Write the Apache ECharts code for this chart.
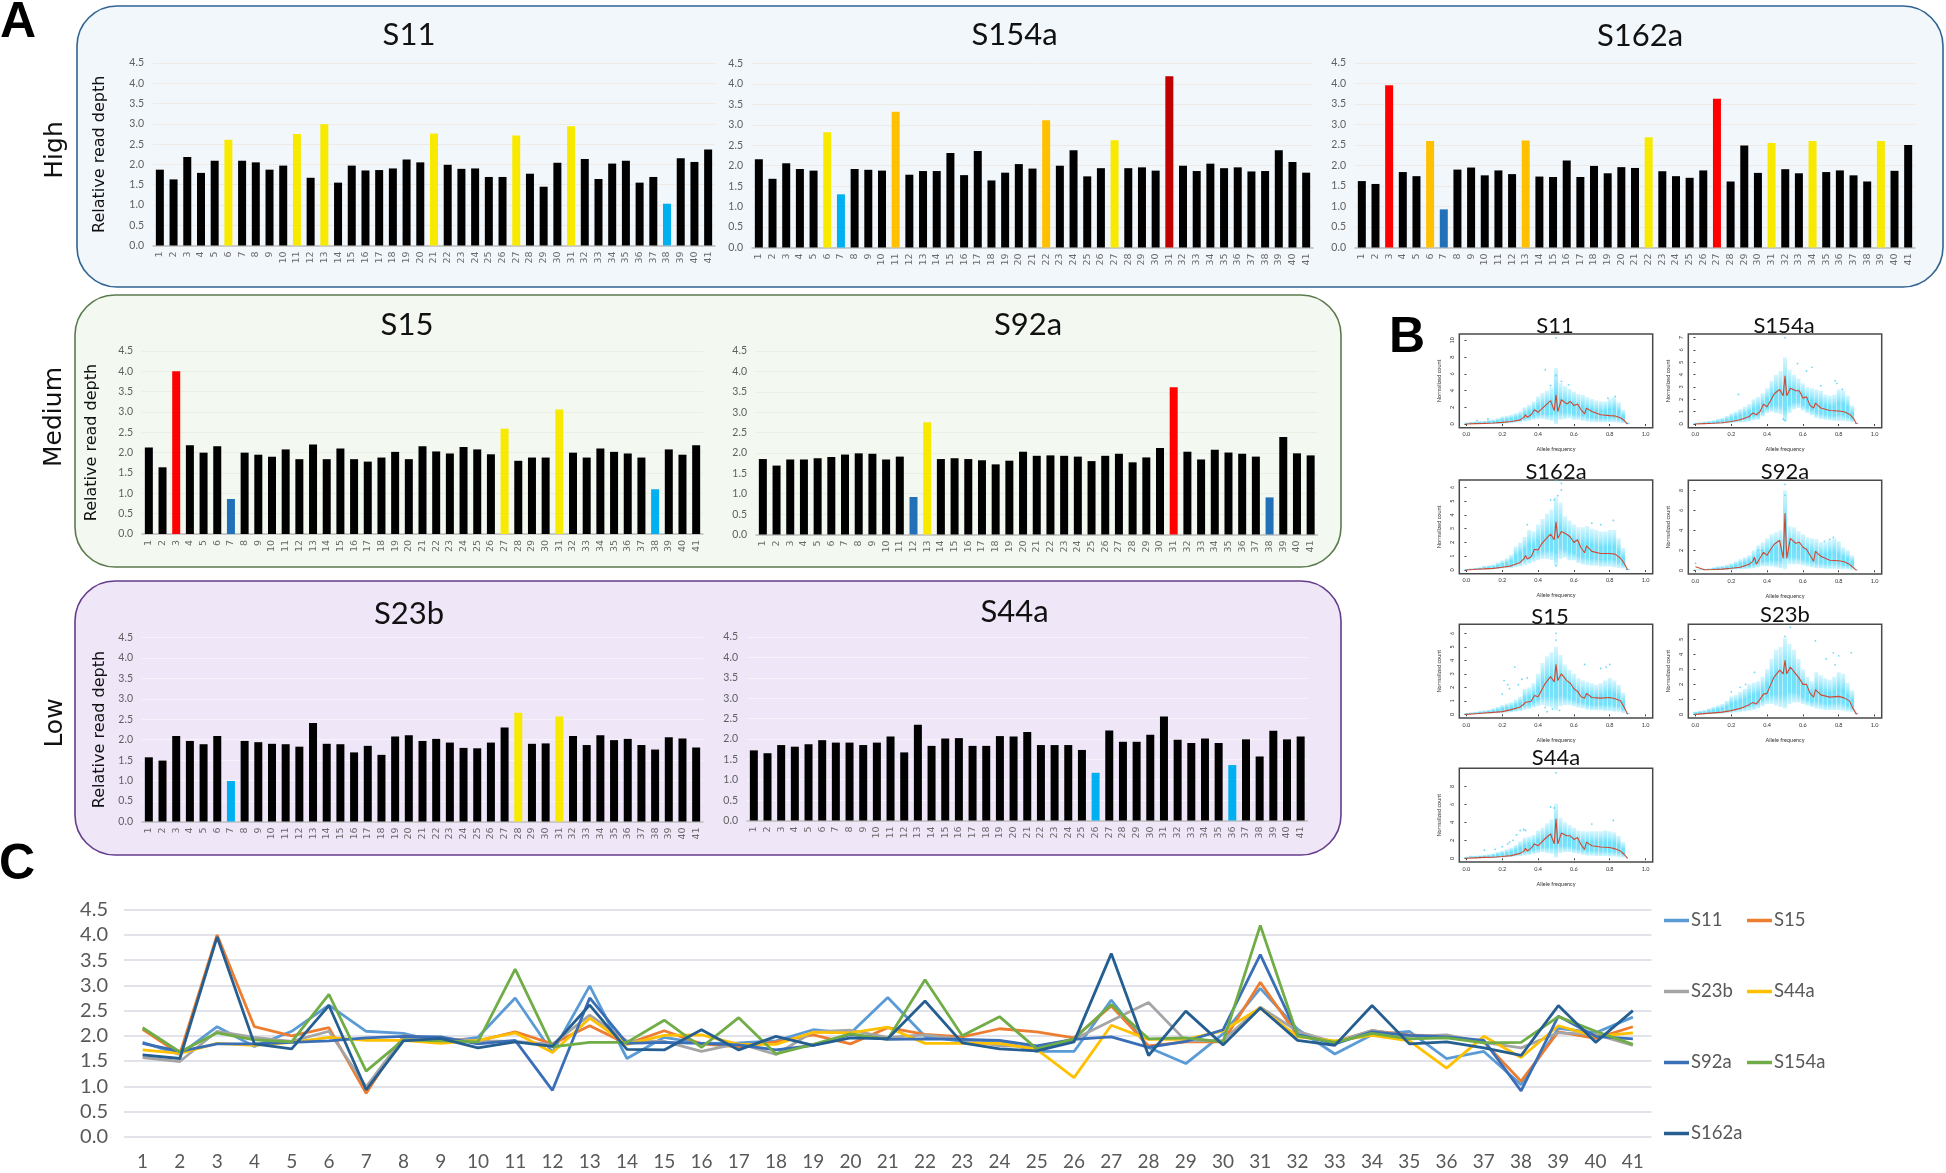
<!DOCTYPE html>
<html><head><meta charset="utf-8">
<style>html,body{margin:0;padding:0;background:#fff}#c{width:1946px;height:1173px}</style>
<script src="https://cdn.jsdelivr.net/npm/echarts@6/dist/echarts.min.js"></script>
</head><body><div id="c"></div>
<script>
// ---------- categories & ticks ----------
const regions = ['1','2','3','4','5','6','7','8','9','10','11','12','13','14','15','16','17','18','19','20','21','22','23','24','25','26','27','28','29','30','31','32','33','34','35','36','37','38','39','40','41'];
const freqTicks = [0,0.2,0.4,0.6,0.8,1];

// ---------- relative read depth (A, C) ----------
const S11  = [1.87,1.63,2.18,1.79,2.09,2.61,2.09,2.05,1.87,1.97,2.75,1.67,2.99,1.55,1.97,1.85,1.86,1.90,2.12,2.05,2.76,1.99,1.89,1.90,1.69,1.69,2.71,1.77,1.45,2.04,2.94,2.13,1.64,2.02,2.09,1.55,1.69,1.03,2.15,2.06,2.37];
const S154a= [2.16,1.68,2.06,1.92,1.88,2.82,1.30,1.92,1.90,1.88,3.32,1.78,1.87,1.87,2.31,1.77,2.36,1.64,1.83,2.04,1.93,3.11,2.00,2.38,1.74,1.94,2.62,1.94,1.96,1.88,4.19,2.00,1.87,2.05,1.94,1.96,1.86,1.87,2.38,2.09,1.83];
const S162a= [1.62,1.55,3.96,1.84,1.74,2.60,0.93,1.90,1.95,1.76,1.88,1.79,2.61,1.73,1.72,2.12,1.72,1.99,1.81,1.96,1.94,2.69,1.86,1.74,1.70,1.88,3.63,1.61,2.49,1.82,2.55,1.91,1.81,2.60,1.84,1.88,1.76,1.61,2.60,1.87,2.50];
const S15  = [2.13,1.64,4.00,2.18,2.00,2.16,0.86,2.00,1.95,1.90,2.08,1.84,2.20,1.84,2.10,1.84,1.78,1.88,2.02,1.84,2.16,2.03,1.98,2.14,2.08,1.96,2.59,1.80,1.88,1.88,3.06,2.00,1.88,2.10,2.02,1.98,1.88,1.10,2.08,1.95,2.18];
const S92a = [1.85,1.69,1.84,1.84,1.87,1.90,1.96,1.99,1.98,1.84,1.91,0.92,2.75,1.85,1.87,1.85,1.82,1.72,1.81,2.03,1.93,1.94,1.93,1.91,1.80,1.93,1.98,1.77,1.89,2.12,3.61,2.03,1.84,2.08,2.01,1.98,1.91,0.91,2.39,1.99,1.94];
const S23b = [1.57,1.49,2.09,1.97,1.89,2.09,0.99,1.97,1.94,1.90,1.89,1.83,2.41,1.90,1.89,1.69,1.85,1.63,2.08,2.11,1.97,2.02,1.93,1.80,1.79,1.93,2.30,2.66,1.90,1.91,2.57,2.09,1.87,2.11,1.99,2.02,1.87,1.76,2.06,2.03,1.81];
const S44a = [1.72,1.65,1.85,1.81,1.87,1.97,1.91,1.91,1.85,1.91,2.06,1.67,2.35,1.83,2.01,2.02,1.83,1.83,2.07,2.06,2.17,1.85,1.85,1.85,1.73,1.17,2.21,1.93,1.93,2.10,2.55,1.98,1.90,2.01,1.90,1.36,1.99,1.57,2.20,1.99,2.06];

// ---------- highlighted regions (A) ----------
const Y='#f7ea00', O='#ffc000', R='#ff0000', D='#c00000', L='#00b0f0', B='#2170b8';
const marksS11  = {6:Y,11:Y,13:Y,21:Y,27:Y,31:Y,38:L};
const marksS154a= {6:Y,7:L,11:O,22:O,27:Y,31:D};
const marksS162a= {3:R,6:O,7:B,13:O,22:Y,27:R,31:Y,34:Y,39:Y};
const marksS15  = {3:R,7:B,27:Y,31:Y,38:L};
const marksS92a = {12:B,13:Y,31:R,38:B};
const marksS23b = {7:L,28:Y,31:Y};
const marksS44a = {26:L,36:L};

// ---------- allele-frequency plots (B): cloud extent per column, curve, stray points ----------
const cloudX = [0,.025,.05,.075,.1,.125,.15,.175,.2,.225,.25,.275,.3,.325,.35,.375,.4,.425,.45,.475,.5,.525,.55,.575,.6,.625,.65,.675,.7,.725,.75,.775,.8,.825,.85,.875,.9];
const curveX = [0,.05,.1,.15,.2,.25,.3,.32,.33,.34,.36,.38,.4,.42,.44,.47,.49,.5,.51,.53,.56,.58,.6,.62,.64,.66,.67,.7,.75,.8,.83,.86,.88,.9];

const hiS11 = [.2,.25,.3,.35,.4,.5,.55,.7,.9,1.0,1.1,1.3,1.5,2.0,2.3,2.7,3.3,3.7,4.0,4.4,6.7,4.9,4.5,4.2,3.9,3.6,3.5,3.2,3.0,2.8,2.7,2.7,3.0,3.2,2.6,1.7,.2];
const loS11 = [0,0,0,0,0,0,0,0,0,.05,.1,.15,.2,.3,.4,.5,.6,.6,.5,.4,0,.5,.6,.7,.5,.5,.4,.3,.25,.2,.2,.2,.2,.2,.15,.1,0];
const curveS11 = [0,.05,.08,.12,.2,.3,.5,.8,1.1,.8,1.1,1.7,1.4,1.8,2.2,2.8,1.6,3.5,1.5,2.9,2.4,2.7,2.2,2.4,1.7,1.2,1.9,1.5,1.1,1.0,.95,.75,.45,0];
const strayS11 = [[.5,10.3],[.44,6.5],[.5,5.8],[.53,5.1],[.57,4.7],[.83,3.3],[.79,3.1],[.47,4.6],[.06,.4],[.12,.6]];

const hiS154a = [.1,.15,.2,.25,.3,.4,.5,.65,.85,1.0,1.2,1.4,1.6,2.0,2.2,2.5,2.9,3.5,4.0,4.3,5.4,4.4,4.0,3.7,3.3,3.0,2.9,2.8,2.7,2.4,2.3,2.4,2.8,2.7,2.3,1.5,.1];
const loS154a = [0,0,0,0,0,.02,.03,.05,.07,.1,.12,.15,.2,.3,.35,.6,.9,1.0,.9,.8,.2,.9,1.2,1.3,1.1,.9,.7,.5,.4,.35,.3,.25,.25,.25,.2,.15,0];
const curveS154a = [0,.03,.06,.1,.2,.35,.6,.9,1.0,.75,1.0,1.6,1.4,1.9,2.45,2.8,2.3,3.9,2.3,2.9,2.7,2.7,2.1,2.2,1.5,1.3,1.7,1.3,1.1,1.05,1.0,.8,.5,0];
const strayS154a = [[.5,7.0],[.24,2.4],[.57,4.9],[.62,4.3],[.65,4.6],[.78,3.5],[.79,3.3],[.7,3.1],[.82,2.8],[.5,.3],[.49,.4]];

const hiS162a = [.1,.12,.15,.2,.3,.35,.4,.55,.7,.85,1.1,1.7,2.0,2.4,2.9,2.8,3.3,3.7,4.1,4.4,5.3,4.9,3.9,3.6,3.3,3.1,3.1,3.2,3.0,2.9,2.8,2.8,2.9,2.9,2.3,1.6,.1];
const loS162a = [0,0,0,.01,.02,.03,.05,.07,.1,.12,.15,.2,.25,.35,.45,.6,.7,.8,.8,.7,.3,.8,.9,.7,.7,.5,.4,.35,.3,.3,.25,.25,.25,.2,.15,.1,0];
const curveS162a = [0,.05,.08,.12,.2,.3,.55,.8,1.05,.8,.95,1.5,1.45,1.9,2.2,2.6,2.2,3.5,2.3,2.8,2.6,2.4,2.0,2.2,1.6,1.25,1.75,1.35,1.2,1.2,1.15,.85,.5,0];
const strayS162a = [[.5,6.5],[.47,5.1],[.49,5.1],[.51,5.4],[.53,5.8],[.53,6.3],[.82,3.6],[.7,3.4],[.75,3.3],[.34,3.3],[.5,.3]];

const hiS15 = [.1,.15,.2,.25,.3,.35,.45,.55,.7,.8,.9,1.1,1.3,1.9,2.0,2.3,3.0,3.8,4.3,4.6,5.0,4.4,3.7,3.3,3.0,2.7,2.5,2.4,2.3,2.2,2.3,2.5,2.7,2.5,2.2,1.6,.1];
const loS15 = [0,0,0,.02,.03,.05,.06,.08,.1,.12,.15,.2,.25,.35,.4,.5,.6,.7,.6,.5,.3,.6,.7,.7,.6,.5,.45,.35,.3,.3,.3,.25,.25,.2,.2,.1,0];
const curveS15 = [0,.05,.1,.15,.2,.35,.55,.75,.9,.8,.95,1.4,1.3,1.8,2.3,2.8,2.4,3.7,2.5,3.0,2.5,2.3,1.9,1.7,1.3,1.2,1.55,1.25,1.2,1.25,1.15,1.0,.55,0];
const strayS15 = [[.21,2.5],[.23,2.2],[.27,3.5],[.2,1.5],[.24,1.9],[.29,2.2],[.31,2.6],[.34,2.7],[.5,6.0],[.5,5.5],[.66,3.7],[.78,3.5],[.8,3.7],[.75,3.4],[.45,.2],[.48,.4],[.52,.3],[.44,.5]];

const hiS92a = [.1,.1,.15,.2,.3,.4,.45,.55,.7,.9,1.1,1.3,1.5,2.0,2.5,2.8,3.2,3.6,3.8,4.0,8.0,4.4,4.3,3.9,3.6,3.3,3.2,3.1,2.8,2.8,3.0,3.2,2.9,2.3,2.0,1.5,.1];
const loS92a = [0,0,0,0,0,0,.02,.03,.05,.07,.1,.13,.15,.2,.3,.4,.4,.4,.3,.2,.1,.6,.6,.6,.5,.4,.3,.2,.2,.15,.15,.15,.1,.1,.1,.05,0];
const curveS92a = [.35,.05,.08,.12,.2,.3,.6,.9,1.3,.6,1.2,1.8,1.5,2.1,2.6,3.0,1.2,5.7,1.2,3.2,2.7,2.8,2.3,2.1,1.5,.9,1.9,1.4,1.0,.95,.85,.6,.3,0];
const strayS92a = [[.5,8.6],[0,.7],[.5,7.5],[.35,2.0],[.37,2.0],[.77,3.3],[.75,3.1],[.72,2.9]];

const hiS23b = [.2,.25,.3,.4,.5,.6,.7,.9,1.2,1.3,1.5,1.7,2.0,2.1,2.2,2.5,3.0,3.7,4.3,4.5,5.1,4.7,4.3,3.7,3.0,2.5,2.2,2.8,2.6,2.4,2.3,2.5,2.8,2.7,2.1,1.6,.1];
const loS23b = [0,0,0,.01,.02,.03,.05,.07,.1,.12,.15,.2,.25,.3,.4,.55,.7,.7,.6,.5,.4,.7,.8,.8,.7,.6,.5,.4,.35,.3,.3,.3,.3,.25,.2,.15,0];
const curveS23b = [0,.05,.1,.15,.25,.4,.65,.8,.9,.7,1.0,1.35,1.4,2.0,2.5,2.95,2.7,3.6,2.7,3.15,2.7,2.4,2.0,2.0,1.4,1.15,1.65,1.3,1.15,1.2,1.1,.9,.4,0];
const strayS23b = [[.5,5.2],[.53,5.8],[.67,4.9],[.33,2.8],[.28,2.0],[.25,1.8],[.2,1.5],[.77,4.1],[.8,3.9],[.87,4.1],[.73,3.7],[.78,3.3]];

const hiS44a = [.2,.3,.3,.35,.4,.45,.55,.7,.85,1.0,1.2,1.5,1.9,2.3,2.4,2.6,3.1,3.4,3.9,4.3,6.1,4.5,4.0,3.7,3.4,3.1,3.0,3.0,3.0,3.0,3.0,3.1,3.0,2.9,2.5,1.8,.1];
const loS44a = [0,0,0,.01,.02,.03,.05,.07,.1,.12,.15,.2,.25,.3,.4,.5,.6,.7,.6,.5,.1,.6,.7,.7,.6,.5,.4,.3,.3,.25,.25,.25,.2,.2,.15,.1,0];
const curveS44a = [0,.05,.1,.12,.2,.3,.55,.8,1.1,.8,1.1,1.6,1.4,1.8,2.2,2.7,1.6,4.4,1.6,2.8,2.5,2.5,2.1,2.3,1.5,1.0,1.8,1.4,1.25,1.2,1.05,.8,.45,0];
const strayS44a = [[.1,.9],[.16,1.0],[.2,1.3],[.23,1.6],[.26,2.0],[.28,2.6],[.3,3.1],[.32,3.2],[.33,3.1],[.24,1.8],[.5,9.5],[.47,5.7],[.49,5.6],[.82,4.2],[.7,3.8]];

const ticksS11=[0,2,4,6,8,10], ticksS154a=[0,1,2,3,4,5,6,7], ticksS162a=[0,1,2,3,4,5,6], ticksS92a=[0,2,4,6,8], ticksS15=[0,1,2,3,4,5,6], ticksS23b=[0,1,2,3,4,5], ticksS44a=[0,2,4,6,8];

// ---------- layout & style ----------
const barPanels = [
 {name:'S11',  d:S11,  m:marksS11,  l:153, r:715, t:63,  b:245.5, grid:'#efeae6', gap:45},
 {name:'S154a',d:S154a,m:marksS154a,l:752, r:1313,t:63.5,b:247.5, grid:'#efeae6'},
 {name:'S162a',d:S162a,m:marksS162a,l:1355,r:1915,t:63,  b:247.5, grid:'#efeae6'},
 {name:'S15',  d:S15,  m:marksS15,  l:142, r:703, t:351, b:534,   grid:'#e9eee7', gap:42},
 {name:'S92a', d:S92a, m:marksS92a, l:756, r:1317.5,t:351,b:534.5,grid:'#e9eee7'},
 {name:'S23b', d:S23b, m:marksS23b, l:142, r:703, t:637.5,b:821.5,grid:'#f7f3fb', gap:34},
 {name:'S44a', d:S44a, m:marksS44a, l:747, r:1307.5,t:637,b:820.5,grid:'#f7f3fb'}
];
const freqPanels = [
 {name:'S11',  hi:hiS11,  lo:loS11,  c:curveS11,  s:strayS11,  tk:ticksS11,  l:1459.3,t:334,  min:-.44,max:10.76},
 {name:'S154a',hi:hiS154a,lo:loS154a,c:curveS154a,s:strayS154a,tk:ticksS154a,l:1688.3,t:334,  min:-.3, max:7.3},
 {name:'S162a',hi:hiS162a,lo:loS162a,c:curveS162a,s:strayS162a,tk:ticksS162a,l:1459.3,t:480,  min:-.27,max:6.54},
 {name:'S92a', hi:hiS92a, lo:loS92a, c:curveS92a, s:strayS92a, tk:ticksS92a, l:1688.3,t:480.3,min:-.37,max:9.0},
 {name:'S15',  hi:hiS15,  lo:loS15,  c:curveS15,  s:strayS15,  tk:ticksS15,  l:1459.3,t:624.3,min:-.27,max:6.67},
 {name:'S23b', hi:hiS23b, lo:loS23b, c:curveS23b, s:strayS23b, tk:ticksS23b, l:1688.3,t:624.3,min:-.24,max:6.0},
 {name:'S44a', hi:hiS44a, lo:loS44a, c:curveS44a, s:strayS44a, tk:ticksS44a, l:1459.3,t:768.3,min:-.41,max:10.0}
];
const lineSeries = [
 {name:'S11',d:S11,c:'#5b9bd5'},{name:'S15',d:S15,c:'#ed7d31'},{name:'S23b',d:S23b,c:'#a5a5a5'},
 {name:'S44a',d:S44a,c:'#ffc000'},{name:'S92a',d:S92a,c:'#3a6fb8'},{name:'S154a',d:S154a,c:'#70ad47'},{name:'S162a',d:S162a,c:'#255e91'}
];
const legendSpots = {S11:[1664,920],S15:[1747,920],S23b:[1664,991],S44a:[1747,991],S92a:[1664,1062],S154a:[1747,1062],S162a:[1664,1133]};
const BOLD='"Liberation Sans",Arial,sans-serif', UI='Lato,sans-serif', WIDE='"DejaVu Sans",sans-serif';

const chart = echarts.init(document.getElementById('c'),null,{renderer:'canvas',width:1946,height:1173});
const grids=[],xAxes=[],yAxes=[],series=[],legends=[];
const txt=(text,x,y,size,o={})=>({type:'text',x,y,rotation:o.rot||0,silent:true,style:{text,font:(o.bold?'bold ':'')+size+'px '+(o.fam||UI),fill:o.fill||'#111',textAlign:'center',textVerticalAlign:'middle'}});
const panel=(x,y,w,h,fill,stroke)=>({type:'rect',z:-5,silent:true,shape:{x,y,width:w,height:h,r:40},style:{fill,stroke,lineWidth:1.6}});

const gfx=[
 panel(77,6,1866,281,'#f2f7fc','#2f6391'),
 panel(75,295,1266,272,'#f3f8f1','#5b7a4c'),
 panel(75,581,1266,274,'#efe6f8','#653c8c'),
 txt('A',18,23,50,{bold:true,fam:BOLD,fill:'#000'}),
 txt('B',1407,338,50,{bold:true,fam:BOLD,fill:'#000'}),
 txt('C',17,865,50,{bold:true,fam:BOLD,fill:'#000'}),
 txt('High',55,150,25,{rot:Math.PI/2,fam:WIDE}),
 txt('Medium',54,417,25,{rot:Math.PI/2,fam:WIDE}),
 txt('Low',55,723,25,{rot:Math.PI/2,fam:WIDE}),
 txt('S11',409,35,31),txt('S154a',1014.5,35,31),txt('S162a',1640,36,31),
 txt('S15',407,325,31),txt('S92a',1028,325,31),txt('S23b',409,614,31),txt('S44a',1014.5,612,31),
 txt('S11',1555,326,22),txt('S154a',1784,326,22),txt('S162a',1556,472,22),txt('S92a',1785,472,22),
 txt('S15',1550,617,22),txt('S23b',1785,615,22),txt('S44a',1556,758,22)
];

barPanels.forEach(p=>{
 const i=grids.length;
 grids.push({left:p.l,top:p.t,width:p.r-p.l,height:p.b-p.t,containLabel:false,outerBoundsMode:'none'});
 xAxes.push({type:'category',gridIndex:i,data:regions,axisTick:{show:false},axisLine:{lineStyle:{color:'#bdbdbd',width:1.5}},
   axisLabel:{interval:0,rotate:90,fontFamily:WIDE,fontSize:9.5,color:'#6a6a6a',margin:6}});
 yAxes.push({type:'value',gridIndex:i,min:0,max:4.5,interval:.5,axisLine:{show:false},axisTick:{show:false},
   splitLine:{lineStyle:{color:p.grid,width:1}},
   axisLabel:{fontFamily:UI,fontSize:10.5,color:'#606060',margin:9,formatter:v=>v.toFixed(1)},
   name:p.gap?'Relative read depth':'',nameLocation:'middle',nameGap:p.gap||0,nameTextStyle:{fontFamily:WIDE,fontSize:16,color:'#111'}});
 series.push({type:'bar',xAxisIndex:i,yAxisIndex:i,barWidth:8,silent:true,animation:false,
   data:p.d.map((v,k)=>({value:v,itemStyle:{color:p.m[k+1]||'#000'}}))});
});

freqPanels.forEach(p=>{
 const i=grids.length;
 grids.push({left:p.l,top:p.t,width:193.4,height:93.7,show:true,backgroundColor:'#fff',borderColor:'#4a4a4a',borderWidth:1.5,outerBoundsMode:'none'});
 xAxes.push({type:'value',gridIndex:i,min:-0.04,max:1.04,axisLine:{show:false},splitLine:{show:false},
   axisTick:{show:true,length:2,customValues:freqTicks,lineStyle:{color:'#444',width:1}},
   axisLabel:{fontFamily:UI,fontSize:5.5,color:'#333',margin:4,customValues:freqTicks,formatter:v=>v.toFixed(1)},
   name:'Allele frequency',nameLocation:'middle',nameGap:19,nameTextStyle:{fontFamily:UI,fontSize:5.5,color:'#333'}});
 yAxes.push({type:'value',gridIndex:i,min:p.min,max:p.max,axisLine:{show:false},splitLine:{show:false},
   axisTick:{show:true,length:2,customValues:p.tk,lineStyle:{color:'#444',width:1}},
   axisLabel:{fontFamily:UI,fontSize:5.5,color:'#333',margin:4,rotate:90,customValues:p.tk},
   name:'Normalized count',nameLocation:'middle',nameGap:17,nameTextStyle:{fontFamily:UI,fontSize:5.5,color:'#333'}});
 series.push({type:'custom',xAxisIndex:i,yAxisIndex:i,silent:true,animation:false,clip:true,
   encode:{x:0,y:[1,2]},
   data:cloudX.map((x,k)=>[x,p.lo[k],p.hi[k]]),
   renderItem:(params,api)=>{
     const a=api.coord([api.value(0),api.value(2)]), b=api.coord([api.value(0),api.value(1)]);
     return {type:'rect',shape:{x:a[0]-2,y:a[1],width:4,height:Math.max(b[1]-a[1],.5)},
       style:{fill:new echarts.graphic.LinearGradient(0,0,0,1,[{offset:0,color:'rgba(150,232,252,.4)'},{offset:.45,color:'rgba(105,222,250,.95)'},{offset:.8,color:'rgba(105,222,250,.9)'},{offset:1,color:'rgba(150,232,252,.45)'}])}};
   }});
 series.push({type:'scatter',xAxisIndex:i,yAxisIndex:i,silent:true,animation:false,symbolSize:1.8,itemStyle:{color:'#45cdf4'},data:p.s});
 series.push({type:'line',xAxisIndex:i,yAxisIndex:i,silent:true,animation:false,symbol:'none',lineStyle:{color:'#cf4a34',width:1.1},
   data:curveX.map((x,k)=>[x,p.c[k]])});
});

const ci=grids.length;
grids.push({left:124,top:909.7,width:1527.5,height:227,outerBoundsMode:'none'});
xAxes.push({type:'category',gridIndex:ci,data:regions,axisLine:{show:false},axisTick:{show:false},
  axisLabel:{interval:0,fontFamily:UI,fontSize:19,color:'#595959',margin:16}});
yAxes.push({type:'value',gridIndex:ci,min:0,max:4.5,interval:.5,axisLine:{show:false},axisTick:{show:false},
  splitLine:{lineStyle:{color:'#d8d8e4',width:1.5}},
  axisLabel:{fontFamily:UI,fontSize:20,color:'#595959',margin:16,formatter:v=>v.toFixed(1)}});
lineSeries.forEach(s=>{
  series.push({name:s.name,type:'line',xAxisIndex:ci,yAxisIndex:ci,data:s.d,symbol:'none',silent:true,animation:false,
    lineStyle:{color:s.c,width:2.8},itemStyle:{color:s.c}});
  const q=legendSpots[s.name];
  legends.push({data:[{name:s.name,icon:'rect'}],left:q[0],top:q[1]-9,selectedMode:false,itemWidth:25,itemHeight:3.5,itemGap:0,padding:0,
    textStyle:{fontFamily:UI,fontSize:18.5,color:'#595959',padding:[0,0,0,-3]}});
});

chart.setOption({animation:false,backgroundColor:'#fff',graphic:{elements:gfx},grid:grids,xAxis:xAxes,yAxis:yAxes,series,legend:legends});
</script></body></html>
